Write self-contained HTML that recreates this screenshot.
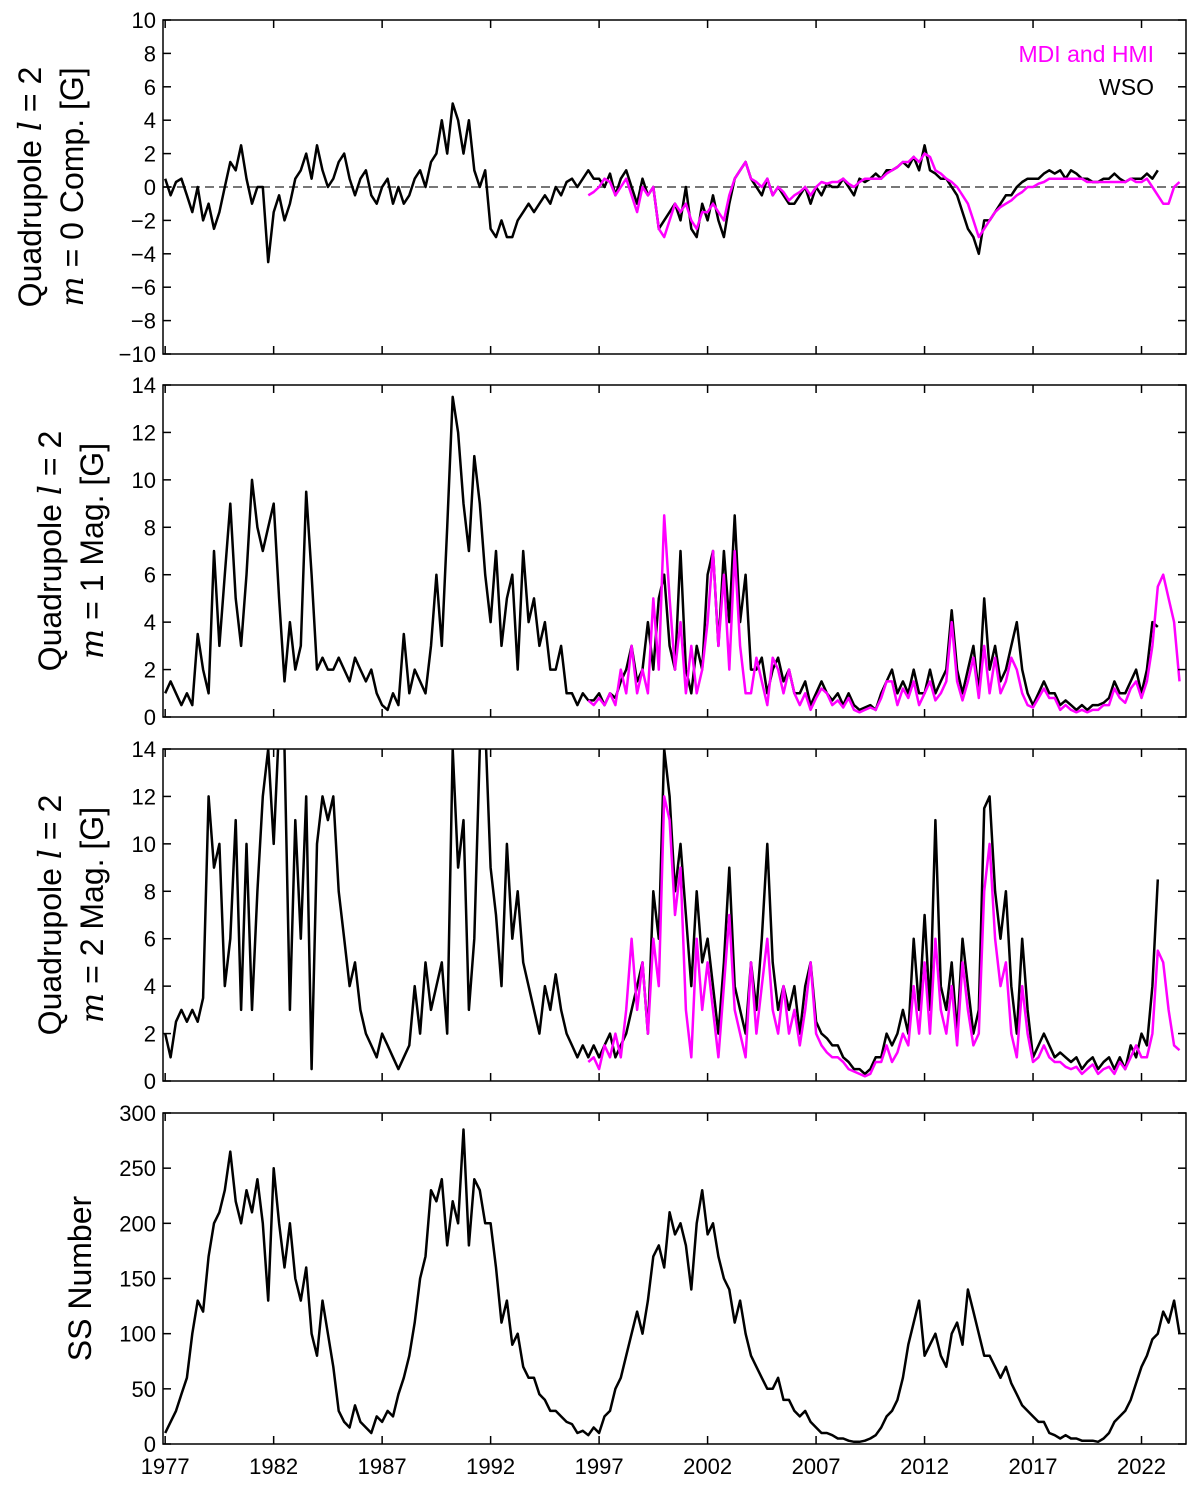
<!DOCTYPE html>
<html><head><meta charset="utf-8"><style>
html,body{margin:0;padding:0;background:#fff;}
svg{display:block;font-family:"Liberation Sans",sans-serif;}
</style></head><body>
<svg id="chart" width="1200" height="1489" viewBox="0 0 1200 1489" xmlns="http://www.w3.org/2000/svg"></svg>
<script>
// ---- data (quarterly samples) ----
const wsoStart = 1977.0;
const mdiStart = 1996.5;
const step = 0.25;
const xTickYears = [1977,1982,1987,1992,1997,2002,2007,2012,2017,2022];
const ticksP1 = [-10,-8,-6,-4,-2,0,2,4,6,8,10];
const ticksP2 = [0,2,4,6,8,10,12,14];
const ticksP4 = [0,50,100,150,200,250,300];
const wsoM0 = [0.5,-0.5,0.3,0.5, -0.5,-1.5,0,-2, -1,-2.5,-1.5,0, 1.5,1,2.5,0.5, -1,0,0,-4.5, -1.5,-0.5,-2,-1, 0.5,1,2,0.5, 2.5,1,0,0.5, 1.5,2,0.5,-0.5, 0.5,1,-0.5,-1, 0,0.5,-1,0, -1,-0.5,0.5,1, 0,1.5,2,4, 2,5,4,2, 4,1,0,1, -2.5,-3,-2,-3, -3,-2,-1.5,-1, -1.5,-1,-0.5,-1, 0,-0.5,0.3,0.5, 0,0.5,1,0.5, 0.5,0,0.8,-0.5, 0.5,1,0,-1, 0.5,-0.5,0,-2.5, -2,-1.5,-1,-2, 0,-2.5,-3,-1, -2,-0.5,-2,-3, -1,0.5,1,1.5, 0.5,0,-0.5,0.5, -0.5,0,-0.5,-1, -1,-0.5,0,-1, 0,-0.5,0.2,0, 0,0.5,0,-0.5, 0.5,0.3,0.5,0.8, 0.5,1,1,1.2, 1.5,1.2,1.8,1, 2.5,1,0.8,0.5, 0.5,0,-0.5,-1.5, -2.5,-3,-4,-2, -2,-1.5,-1,-0.5, -0.5,0,0.3,0.5, 0.5,0.5,0.8,1, 0.8,1,0.5,1, 0.8,0.5,0.5,0.3, 0.3,0.5,0.5,0.8, 0.5,0.3,0.5,0.5, 0.5,0.8,0.5,1];
const mdiM0 = [-0.5,-0.3, 0,0.5,0.3,-0.5, 0,0.5,-0.5,-1.5, 0,-0.5,0,-2.5, -3,-2,-1,-1.5, -1,-2,-2.5,-1.5, -1.5,-1,-1.5,-2, -0.5,0.5,1,1.5, 0.5,0.3,0,0.5, -0.5,0,-0.3,-0.8, -0.5,-0.3,0,-0.5, 0,0.3,0.2,0.3, 0.3,0.5,0.2,0, 0.3,0.5,0.5,0.5, 0.5,0.8,1,1.2, 1.5,1.5,1.8,1.5, 2,1.8,1,0.8, 0.5,0.3,0,-0.5, -1,-2,-3,-2.5, -2,-1.5,-1.2,-1, -0.8,-0.5,-0.3,0, 0,0.2,0.3,0.5, 0.5,0.5,0.5,0.5, 0.5,0.5,0.3,0.3, 0.3,0.3,0.3,0.3, 0.3,0.3,0.5,0.3, 0.3,0.5,0,-0.5, -1,-1,0,0.3];
const wsoM1 = [1,1.5,1,0.5, 1,0.5,3.5,2, 1,7,3,6, 9,5,3,6, 10,8,7,8, 9,5,1.5,4, 2,3,9.5,6, 2,2.5,2,2, 2.5,2,1.5,2.5, 2,1.5,2,1, 0.5,0.3,1,0.5, 3.5,1,2,1.5, 1,3,6,3, 8,13.5,12,9, 7,11,9,6, 4,7,3,5, 6,2,7,4, 5,3,4,2, 2,3,1,1, 0.5,1,0.7,0.7, 1,0.5,1,0.8, 1.5,2,3,1.5, 2,4,2,5, 6,3,2,7, 2,1,3,2, 6,7,3,7, 4,8.5,4,6, 2,2,2.5,1, 2,2.5,1.5,2, 1,1,1.5,0.5, 1,1.5,1,0.7, 1,0.5,1,0.5, 0.3,0.4,0.5,0.3, 1,1.5,2,1, 1.5,1,2,1, 1,2,1,1.5, 2,4.5,2,1, 2,3,1,5, 2,3,1.5,2, 3,4,2,1, 0.5,1,1.5,1, 1,0.5,0.7,0.5, 0.3,0.5,0.3,0.5, 0.5,0.6,0.8,1.5, 1,1,1.5,2, 1,2,4,3.8];
const mdiM1 = [0.7,0.5, 0.8,0.5,1,0.5, 2,1,3,1, 2,1,5,2, 8.5,5,2,4, 1,3,1,2, 4,7,3,6, 2,7,3,1, 1,2.5,1.5,0.5, 2.5,2,1,2, 1,0.5,1,0.3, 0.8,1.2,1,0.5, 0.7,0.4,0.8,0.3, 0.2,0.3,0.4,0.3, 0.8,1.5,1.5,0.5, 1.2,0.8,1.5,0.5, 1,1.5,0.7,1, 1.5,4,1.5,0.7, 1.5,2.5,0.8,3, 1,2.5,1,1.5, 2.5,2,1,0.5, 0.4,0.8,1.2,0.8, 0.8,0.3,0.5,0.3, 0.2,0.3,0.2,0.3, 0.3,0.5,0.5,1.2, 0.8,0.6,1.2,1.5, 0.8,1.5,3,5.5, 6,5,4,1.5];
const wsoM2 = [2,1,2.5,3, 2.5,3,2.5,3.5, 12,9,10,4, 6,11,3,10, 3,8,12,14, 10,15,14,3, 11,6,12,0.5, 10,12,11,12, 8,6,4,5, 3,2,1.5,1, 2,1.5,1,0.5, 1,1.5,4,2, 5,3,4,5, 2,14,9,11, 3,6,14,15, 9,7,4,10, 6,8,5,4, 3,2,4,3, 4.5,3,2,1.5, 1,1.5,1,1.5, 1,1.5,2,1, 1.5,2,3,4, 5,2,8,6, 14,12,8,10, 7,4,8,5, 6,4,2,5, 9,4,3,2, 5,3,6,10, 5,3,4,3, 4,2,4,5, 2.5,2,1.8,1.5, 1.5,1,0.8,0.5, 0.5,0.3,0.5,1, 1,2,1.5,2, 3,2,6,3, 7,3,11,4, 3,5,2,6, 4,2,3,11.5, 12,8,6,8, 4,2,6,3, 1,1.5,2,1.5, 1,1.2,1,0.8, 1,0.5,0.8,1, 0.5,0.8,1,0.5, 1,0.5,1.5,1, 2,1.5,4,8.5];
const mdiM2 = [0.8,1, 0.5,1.5,1,2, 1,3,6,3, 5,2,6,4, 12,11,7,9, 3,1,6,3, 5,3,1,4, 7,3,2,1, 5,2,4,6, 3,2,4,2, 3,1.5,3,5, 2,1.5,1.2,1, 1,0.8,0.5,0.4, 0.3,0.2,0.3,0.8, 0.8,1.5,0.8,1.2, 2,1.5,4,2, 5,2,6,3, 2,4,1.5,5, 3,1.5,2,8, 10,6,4,5, 2,1,4,2, 0.8,1,1.5,1, 0.8,0.8,0.6,0.5, 0.6,0.3,0.5,0.7, 0.3,0.5,0.6,0.3, 0.8,0.5,1,1.5, 1,1,2,5.5, 5,3,1.5,1.3];
const sunspots = [10,20,30,45, 60,100,130,120, 170,200,210,230, 265,220,200,230, 210,240,200,130, 250,200,160,200, 150,130,160,100, 80,130,100,70, 30,20,15,35, 20,15,10,25, 20,30,25,45, 60,80,110,150, 170,230,220,240, 180,220,200,285, 180,240,230,200, 200,160,110,130, 90,100,70,60, 60,45,40,30, 30,25,20,18, 10,12,8,15, 10,25,30,50, 60,80,100,120, 100,130,170,180, 160,210,190,200, 180,140,200,230, 190,200,170,150, 140,110,130,100, 80,70,60,50, 50,60,40,40, 30,25,30,20, 15,10,10,8, 5,5,3,2, 2,3,5,8, 15,25,30,40, 60,90,110,130, 80,90,100,80, 70,100,110,90, 140,120,100,80, 80,70,60,70, 55,45,35,30, 25,20,20,10, 8,5,8,5, 5,3,3,3, 2,5,10,20, 25,30,40,55, 70,80,95,100, 120,110,130,100];

// ---- layout ----
const svg = document.getElementById('chart');
const NS = 'http://www.w3.org/2000/svg';
const L = 163, R = 1186;
const xMin = 1976.9, xMax = 2024.05;
const xs = y => L + (y - xMin) / (xMax - xMin) * (R - L);
function mk(tag, attrs, parent){ const e = document.createElementNS(NS, tag); for (const k in attrs) e.setAttribute(k, attrs[k]); (parent||svg).appendChild(e); return e; }

const panels = [
  {id:'m0', top:20, bot:354, min:-10, max:10, ticks:ticksP1, label:[['Quadrupole ','l',' = 2'],['','m',' = 0 Comp. [G]']], lx:[41,83], series:[[wsoM0,wsoStart,'#000','wso-m0-line'],[mdiM0,mdiStart,'#ff00ff','mdi-m0-line']], zero:true},
  {id:'m1', top:385, bot:717, min:0, max:14, ticks:ticksP2, label:[['Quadrupole ','l',' = 2'],['','m',' = 1 Mag. [G]']], lx:[61,103], series:[[wsoM1,wsoStart,'#000','wso-m1-line'],[mdiM1,mdiStart,'#ff00ff','mdi-m1-line']]},
  {id:'m2', top:749, bot:1081, min:0, max:14, ticks:ticksP2, label:[['Quadrupole ','l',' = 2'],['','m',' = 2 Mag. [G]']], lx:[61,103], series:[[wsoM2,wsoStart,'#000','wso-m2-line'],[mdiM2,mdiStart,'#ff00ff','mdi-m2-line']]},
  {id:'ss', top:1113, bot:1444, min:0, max:300, ticks:ticksP4, label:[['SS Number','','']], lx:[91], series:[[sunspots,wsoStart,'#000','sunspot-line']]}
];

panels.forEach(p => {
  const g = mk('g', {});
  
  
  const ys = v => p.bot - (v - p.min) / (p.max - p.min) * (p.bot - p.top);
  const cp = mk('clipPath', {id:'clip-' + p.id}, g);
  mk('rect', {x:L, y:p.top, width:R-L, height:p.bot-p.top}, cp);
  if (p.zero) {
    const z = mk('line', {x1:L, x2:R, y1:ys(0), y2:ys(0), stroke:'#777', 'stroke-width':2, 'stroke-dasharray':'9,5'}, g);
    
    
  }
  p.series.forEach(s => {
    const [vals, start, col, name] = s;
    const pts = vals.map((v, i) => xs(start + i * step).toFixed(1) + ',' + ys(v).toFixed(1)).join(' ');
    const pl = mk('polyline', {points:pts, fill:'none', stroke:col, 'stroke-width':2.5, 'stroke-linejoin':'round', 'clip-path':'url(#clip-' + p.id + ')'}, g);
    
    
  });
  const fr = mk('rect', {x:L, y:p.top, width:R-L, height:p.bot-p.top, fill:'none', stroke:'#000', 'stroke-width':1.5}, g);
  
  
  p.ticks.forEach(t => {
    const y = ys(t);
    mk('line', {x1:L, x2:L+8, y1:y, y2:y, stroke:'#000', 'stroke-width':1.5}, g);
    mk('line', {x1:R-8, x2:R, y1:y, y2:y, stroke:'#000', 'stroke-width':1.5}, g);
    const tx = mk('text', {x:L-7, y:y+8, 'text-anchor':'end', 'font-size':22}, g);
    tx.textContent = t < 0 ? '\u2212' + Math.abs(t) : String(t);
    
    
  });
  xTickYears.forEach(yr => {
    const x = xs(yr);
    mk('line', {x1:x, x2:x, y1:p.bot-8, y2:p.bot, stroke:'#000', 'stroke-width':1.5}, g);
    mk('line', {x1:x, x2:x, y1:p.top, y2:p.top+8, stroke:'#000', 'stroke-width':1.5}, g);
  });
  const cy = (p.top + p.bot) / 2;
  p.label.forEach((ln, i) => {
    const t = mk('text', {x:p.lx[i], y:cy, 'text-anchor':'middle', 'font-size':32, transform:'rotate(-90 ' + p.lx[i] + ' ' + cy + ')'}, g);
    const a = mk('tspan', {}, t); a.textContent = ln[0];
    if (ln[1]) { const b = mk('tspan', {'font-style':'italic', 'font-family':'"DejaVu Serif","Liberation Serif",serif'}, t); b.textContent = ln[1]; }
    if (ln[2]) { const c = mk('tspan', {}, t); c.textContent = ln[2]; }
    
    
  });
});

xTickYears.forEach(yr => {
  const t = mk('text', {x:xs(yr), y:1474, 'text-anchor':'middle', 'font-size':22});
  t.textContent = yr;
  
  
});

const lg1 = mk('text', {x:1154, y:62, 'text-anchor':'end', 'font-size':23, fill:'#ff00ff'});
lg1.textContent = 'MDI and HMI';


const lg2 = mk('text', {x:1154, y:95, 'text-anchor':'end', 'font-size':23, fill:'#000'});
lg2.textContent = 'WSO';


</script>
</body></html>
